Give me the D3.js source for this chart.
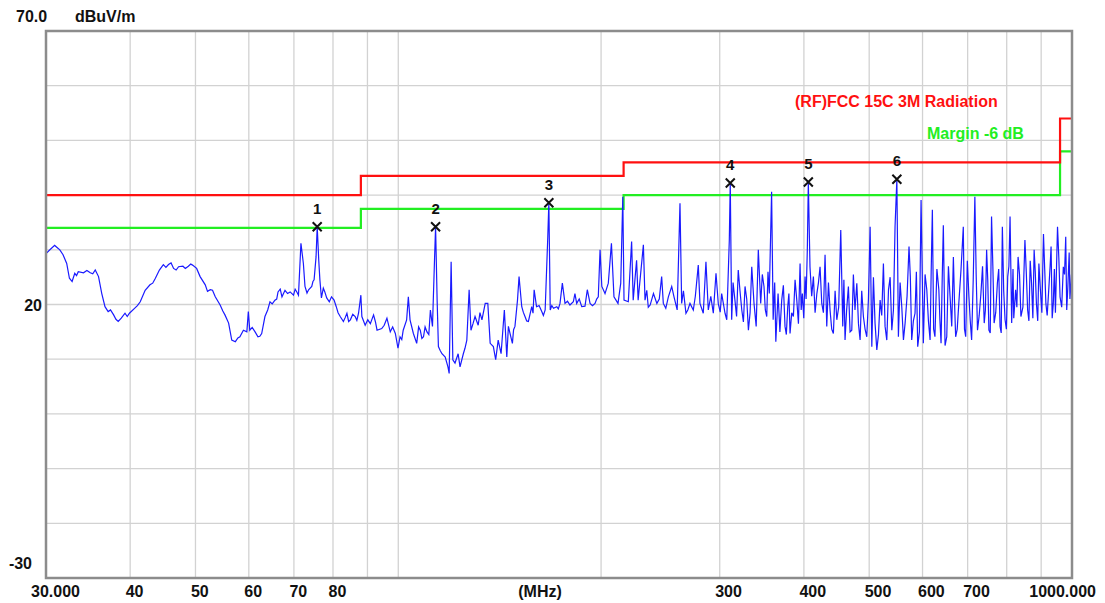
<!DOCTYPE html>
<html>
<head>
<meta charset="utf-8">
<script src="https://cdn.jsdelivr.net/npm/d3@7"></script>
<style>
  body { margin: 0; background: #fff; }
  svg text { font-family: "Liberation Sans", Arial, sans-serif; font-weight: bold; }
</style>
</head>
<body>
<div id="chart"></div>
<script>
// limit line (FCC 15C 3M) steps: start MHz, dBuV/m
var limitFreq  = [30, 88, 216, 960, 1000];
var limitLevel = [40, 43.5, 46, 54, 54];
var marginDb = -6;

// markers
var markerFreq  = [75.8, 113.6, 167.3, 311.0, 406.1, 549.6];
var markerLevel = [34.2, 34.2, 38.6, 42.2, 42.4, 42.9];

// grid + tick labels
var yGrid = [-20, -10, 0, 10, 20, 30, 40, 50, 60];
var xGrid = [40, 50, 60, 70, 80, 90, 100, 200, 300, 400, 500, 600, 700, 800, 900];
var xLabels = [40, 50, 60, 70, 80, 300, 400, 500, 600, 700];

var trace = [
 [30.0,29.3],[30.4,30.0],[30.9,30.8],[31.45,30.0],[31.8,29.1],[32.2,27.5],[32.5,24.8],[32.8,24.2],
 [33.1,25.7],[33.5,26.0],[34.1,25.8],[34.9,25.8],[35.5,26.3],[35.9,25.1],[36.3,22.0],[36.7,19.6],
 [37.1,18.7],[37.8,18.1],[38.4,16.9],[38.8,17.5],[39.3,18.4],[39.9,18.4],[40.6,19.3],[41.4,20.5],
 [42.1,22.6],[42.8,23.6],[43.6,24.8],[44.2,26.3],[44.8,27.3],[45.6,27.3],[46.4,26.6],[47.2,26.9],
 [47.9,27.0],[48.8,27.0],[49.5,27.2],[50.2,26.6],[50.8,25.1],[51.7,23.6],[52.6,22.7],[53.5,21.4],
 [54.4,19.9],[55.3,18.1],[56.0,16.6],[56.6,13.5],[57.3,13.2],[58.2,14.1],[58.9,15.3],[59.6,15.0],
 [59.9,18.7],[60.2,15.3],[61.3,15.0],[61.9,14.1],[62.7,14.7],[63.4,17.8],[64.5,20.5],[65.6,20.8],
 [66.3,22.3],[67.2,21.4],[67.9,22.6],[69.1,22.3],[69.9,21.7],[70.7,22.3],[71.1,21.7],[71.7,31.2],
 [72.3,27.5],[72.7,23.3],[73.6,22.7],[74.4,23.3],[75.0,24.5],[75.5,28.7],[75.8,34.2],[76.2,28.1],
 [76.5,24.5],[76.9,21.2],[77.4,23.0],[78.3,21.2],[79.6,21.4],[80.9,19.6],[82.0,17.8],[82.9,16.9],
 [83.9,18.4],[84.9,17.2],[86.3,17.8],[87.3,18.4],[88.0,21.7],[88.3,17.8],[89.3,16.2],[90.9,16.5],
 [91.9,18.1],[93.0,15.3],[94.5,15.6],[96.2,17.5],[97.3,15.0],[99.0,14.7],[99.9,12.0],[100.6,14.1],
 [101.7,15.3],[102.9,17.2],[103.5,21.4],[104.1,17.2],[105.3,14.7],[106.5,12.9],[107.8,15.3],[109.0,14.1],
 [110.3,15.0],[111.6,19.0],[112.4,16.0],[113.2,28.4],[113.6,34.2],[114.2,20.8],[114.7,12.3],[116.1,11.0],
 [117.4,10.4],[118.5,8.6],[119.0,7.4],[119.8,27.8],[120.5,9.9],[121.4,9.3],[122.7,11.0],[123.5,8.6],
 [124.9,11.0],[126.4,13.5],[127.4,22.7],[128.2,15.3],[130.0,17.8],[131.4,16.2],[133.1,17.2],[134.6,20.2],
 [135.8,20.2],[136.9,12.9],[138.4,12.3],[139.5,9.9],[140.7,13.5],[142.1,11.0],[143.7,19.0],[144.9,10.4],
 [146.5,14.7],[147.7,12.9],[149.0,16.0],[150.3,20.8],[151.1,25.1],[152.5,19.6],[154.2,17.8],[156.0,16.9],
 [157.8,19.6],[159.1,22.7],[160.4,19.6],[163.3,18.7],[165.2,19.0],[166.7,32.4],[167.3,38.6],[168.1,19.0],
 [170.0,19.3],[171.9,19.6],[173.8,20.2],[175.2,23.9],[176.8,20.2],[179.8,19.9],[181.9,20.5],[182.9,22.0],
 [184.0,20.2],[187.2,19.6],[189.3,19.7],[190.8,22.7],[192.6,20.2],[195.9,20.2],[198.1,21.4],[199.3,30.0],
 [200.5,23.3],[202.7,22.0],[205.0,23.9],[207.2,31.2],[209.0,21.4],[211.9,20.2],[213.9,23.9],[215.4,39.7],
 [216.3,20.8],[219.5,20.5],[222.0,31.5],[223.2,20.8],[225.8,28.1],[227.0,20.8],[231.1,30.9],[232.4,20.8],
 [236.5,19.9],[239.2,22.0],[242.0,20.2],[246.0,25.1],[247.4,20.2],[251.7,21.4],[254.6,23.3],[256.6,21.4],
 [259.4,19.0],[261.9,38.5],[263.4,20.2],[267.3,18.4],[271.0,20.2],[274.1,19.0],[278.8,27.2],[280.4,20.2],
 [283.6,18.4],[286.2,27.8],[288.5,19.0],[293.5,18.4],[296.2,25.7],[298.5,20.2],[302.0,22.0],[305.5,18.4],
 [307.3,17.2],[310.0,31.8],[311.0,42.2],[312.5,17.2],[316.0,20.8],[319.6,26.3],[323.5,19.0],[327.1,23.3],
 [330.9,15.3],[334.7,26.9],[337.3,20.2],[342.3,30.0],[345.1,20.2],[349.0,23.3],[352.3,17.8],[355.4,22.0],
 [358.2,40.6],[360.1,17.2],[363.4,13.2],[366.2,22.0],[370.8,20.8],[375.0,16.0],[378.5,19.6],[381.5,14.7],
 [385.9,17.8],[390.4,20.8],[394.8,27.5],[397.9,22.0],[401.6,25.1],[404.7,30.0],[406.1,42.4],[408.4,26.9],
 [413.2,25.1],[418.1,22.0],[422.7,26.9],[425.2,20.2],[430.0,29.1],[432.5,16.0],[437.4,19.0],[442.4,14.7],
 [447.6,17.2],[453.7,33.6],[456.8,16.0],[460.4,13.5],[465.7,23.3],[471.1,15.3],[476.3,19.0],[479.3,23.9],
 [484.7,13.5],[490.2,17.8],[495.9,14.1],[501.6,34.2],[504.5,12.3],[510.1,16.6],[513.2,11.7],[519.0,20.8],
 [524.9,27.5],[527.9,16.0],[534.1,22.7],[540.2,15.3],[546.2,34.2],[549.6,42.9],[552.5,14.1],[558.9,19.6],
 [565.3,16.6],[572.9,30.6],[578.2,13.5],[584.8,18.4],[590.2,12.3],[597.0,39.1],[601.7,12.9],[608.8,22.7],
 [615.7,13.5],[620.5,37.3],[626.0,14.1],[634.4,22.7],[639.2,12.9],[644.2,34.5],[651.8,14.1],[659.2,21.4],
 [666.7,28.7],[671.9,14.1],[679.2,20.2],[689.7,34.2],[695.4,14.1],[703.1,21.4],[709.6,13.5],[717.5,39.7],
 [724.0,15.3],[732.5,22.0],[740.8,16.6],[746.9,30.0],[752.8,15.3],[759.6,36.1],[766.3,16.6],[774.9,23.9],
 [782.0,16.0],[788.2,34.2],[795.5,17.2],[802.8,25.1],[809.2,36.1],[813.7,16.6],[824.8,22.7],[831.7,28.7],
 [839.8,17.8],[851.4,31.8],[859.3,19.0],[870.9,23.9],[878.6,30.0],[885.5,20.2],[897.0,23.3],[907.1,32.9],
 [914.6,20.2],[924.8,23.9],[931.0,30.6],[938.1,20.2],[951.7,34.2],[960.0,21.4],[970.8,26.9],[978.8,32.4],
 [985.5,22.7],[996.5,23.9],[1000,22.0]
];

// finer ripple read between the points above
var traceRipple = [
 [33.3,25.3],[34.5,26.2],[35.2,25.6],[37.4,19.0],[38.1,17.3],[39.6,17.8],[41.0,19.8],[43.2,23.9],
 [45.2,26.8],[46.0,27.6],[46.8,26.3],[48.3,26.6],[49.2,27.4],[52.1,22.4],[53.0,22.6],[54.9,18.8],
 [57.8,13.9],[60.7,15.8],[62.3,14.2],[64.0,19.0],[65.0,20.1],[66.0,21.0],[66.8,22.8],[68.5,22.0],
 [70.3,22.8],[73.2,22.1],[74.7,24.2],[77.8,22.3],[79.0,20.5],[80.3,20.8],[81.4,18.5],[83.4,17.6],
 [84.4,16.9],[85.6,18.2],[86.8,17.1],[90.1,17.2],[92.5,16.8],[95.3,16.2],[98.1,15.9],[101.2,13.6],
 [107.2,15.9],[108.4,13.8],[109.6,15.9],[111.0,14.5],[115.4,11.6],[125.6,12.0],[129.1,16.5],[132.2,18.5],
 [145.7,16.0],[148.3,15.4],[153.3,18.6],[155.1,17.0],[158.5,18.4],[161.8,19.8],[164.2,18.0],[169.0,19.8],
 [172.8,19.2],[178.3,20.6],[185.6,21.0],[194.2,19.8],[197.0,21.0],
 [233.8,22.6],[235.0,19.5],[244.0,21.0],[249.5,19.3],[265.0,22.5],[269.0,19.0],[276.0,21.5],[291.0,21.5],
 [300.5,18.6],[314.0,24.0],[317.8,17.8],[321.5,22.5],[325.3,16.8],[329.0,21.0],[332.8,18.5],[339.8,16.0],
 [347.0,25.5],[350.6,19.0],[353.8,26.0],[362.0,24.0],[368.5,15.0],[372.9,23.5],[376.7,14.5],[380.0,22.0],
 [383.7,18.5],[388.1,24.5],[392.6,16.5],[396.3,19.0],[399.8,17.5],[403.0,21.0],[410.8,21.5],[415.6,18.5],
 [420.4,24.0],[427.6,18.5],[435.0,24.0],[439.9,15.5],[445.0,22.5],[450.5,19.5],[458.6,24.5],[462.9,19.0],
 [468.4,15.0],[473.7,25.5],[482.0,16.5],[487.4,22.5],[493.0,15.5],[498.7,21.0],[507.3,25.0],[516.1,14.5],
 [521.9,18.0],[531.0,13.5],[537.1,25.0],[543.2,19.0],[555.7,24.0],[562.1,13.5],[569.1,21.5],[575.5,25.0],
 [581.5,17.0],[587.5,26.0],[593.6,15.0],[605.2,25.5],[612.2,17.0],[618.0,26.0],[623.2,15.5],[630.2,26.5],
 [636.8,17.0],[641.7,24.5],[648.0,12.5],[655.5,27.0],[663.0,16.0],[669.3,20.5],[675.5,15.5],[684.4,26.5],
 [692.5,15.5],[699.2,28.0],[706.3,17.0],[713.5,24.5],[720.7,25.5],[728.2,18.0],[736.6,27.0],[743.8,19.0],
 [749.8,24.5],[756.2,14.8],[763.0,27.0],[770.5,18.5],[778.4,26.5],[785.1,14.8],[791.8,22.5],[799.1,15.5],
 [806.0,27.0],[817.4,26.5],[819.5,17.5],[828.2,19.5],[835.8,25.5],[845.5,19.5],[855.3,26.0],[863.1,17.0],
 [866.9,28.0],[874.8,17.5],[882.0,26.0],[889.5,17.0],[893.0,27.5],[902.1,18.5],[910.9,26.5],[918.7,18.0],
 [927.9,27.0],[934.5,17.5],[941.5,26.5],[944.9,18.5],[956.0,28.5],[965.4,19.5],[974.8,25.5],[982.1,19.0],
 [990.4,29.5],[993.0,21.0],[998.0,25.5]
];

var width = 1105, height = 603;
var plotLeft = 46, plotRight = 1072, plotTop = 31, plotBottom = 578;

var svg = d3.select("#chart").append("svg")
    .attr("width", width)
    .attr("height", height);

var x = d3.scaleLog().domain([30, 1000]).range([plotLeft, plotRight]);
var y = d3.scaleLinear().domain([-30, 70]).range([plotBottom, plotTop]);

// grid
svg.append("g").selectAll("line").data(yGrid).enter().append("line")
    .attr("x1", plotLeft).attr("x2", plotRight)
    .attr("y1", function(d) { return y(d); })
    .attr("y2", function(d) { return y(d); })
    .attr("stroke", "#d2d2d2").attr("stroke-width", 1.3);

svg.append("g").selectAll("line").data(xGrid).enter().append("line")
    .attr("y1", plotTop).attr("y2", plotBottom)
    .attr("x1", function(d) { return x(d); })
    .attr("x2", function(d) { return x(d); })
    .attr("stroke", "#d2d2d2").attr("stroke-width", 1.3);

// limit + margin lines
var limitPts = limitFreq.map(function(f, i) { return [f, limitLevel[i]]; });
var step = d3.line()
    .curve(d3.curveStepAfter)
    .x(function(d) { return x(d[0]); })
    .y(function(d) { return y(d[1]); });

svg.append("path")
    .attr("d", step(limitPts.map(function(d) { return [d[0], d[1] + marginDb]; })))
    .attr("fill", "none").attr("stroke", "#22ee22").attr("stroke-width", 2.2);

svg.append("path")
    .attr("d", step(limitPts))
    .attr("fill", "none").attr("stroke", "#ff1010").attr("stroke-width", 2.2);

// trace
var allPts = trace.concat(traceRipple).sort(function(a, b) { return a[0] - b[0]; });
var line = d3.line()
    .x(function(d) { return x(d[0]); })
    .y(function(d) { return y(d[1]); });

svg.append("path")
    .attr("d", line(allPts))
    .attr("fill", "none")
    .attr("stroke", "#1a1aff")
    .attr("stroke-width", 1.2);

// markers
var mk = svg.append("g").selectAll("g").data(markerFreq).enter().append("g")
    .attr("transform", function(d, i) { return "translate(" + x(d) + "," + y(markerLevel[i]) + ")"; });
mk.append("path")
    .attr("d", "M-4.5,-4.5L4.5,4.5M-4.5,4.5L4.5,-4.5")
    .attr("stroke", "#111").attr("stroke-width", 2);
mk.append("text")
    .attr("y", -13)
    .attr("text-anchor", "middle")
    .attr("font-size", 15)
    .attr("fill", "#111")
    .text(function(d, i) { return i + 1; });

// frame
svg.append("rect")
    .attr("x", plotLeft).attr("y", plotTop)
    .attr("width", plotRight - plotLeft).attr("height", plotBottom - plotTop)
    .attr("fill", "none").attr("stroke", "#8c8c8c").attr("stroke-width", 2.5);

// x labels
var xAxis = svg.append("g")
    .attr("transform", "translate(0," + plotBottom + ")")
    .call(d3.axisBottom(x).tickValues(xLabels).tickSize(0).tickFormat(d3.format("d")));
xAxis.select(".domain").remove();
xAxis.selectAll("text")
    .attr("text-anchor", "start")
    .attr("dx", -5)
    .attr("dy", null)
    .attr("y", 19)
    .attr("font-size", 16)
    .attr("font-family", null)
    .attr("fill", "#111");

svg.append("text").attr("x", 31).attr("y", 597).attr("font-size", 16).attr("fill", "#111").text("30.000");
svg.append("text").attr("x", 1096).attr("y", 597).attr("font-size", 16).attr("text-anchor", "end").attr("fill", "#111").text("1000.000");
svg.append("text").attr("x", 540).attr("y", 597).attr("font-size", 16).attr("text-anchor", "middle").attr("fill", "#111").text("(MHz)");

// y labels
svg.append("text").attr("x", 16).attr("y", 22).attr("font-size", 16).attr("fill", "#111").text("70.0");
svg.append("text").attr("x", 75).attr("y", 22).attr("font-size", 16).attr("fill", "#111").text("dBuV/m");
svg.append("text").attr("x", 42).attr("y", y(20) + 6).attr("font-size", 16).attr("text-anchor", "end").attr("fill", "#111").text("20");
svg.append("text").attr("x", 32).attr("y", y(-30) - 9).attr("font-size", 16).attr("text-anchor", "end").attr("fill", "#111").text("-30");

// legend
svg.append("text").attr("x", 795).attr("y", 107).attr("font-size", 16).attr("fill", "#ff1010").text("(RF)FCC 15C 3M Radiation");
svg.append("text").attr("x", 927).attr("y", 139).attr("font-size", 16).attr("fill", "#22ee22").text("Margin -6 dB");
</script>
</body>
</html>
